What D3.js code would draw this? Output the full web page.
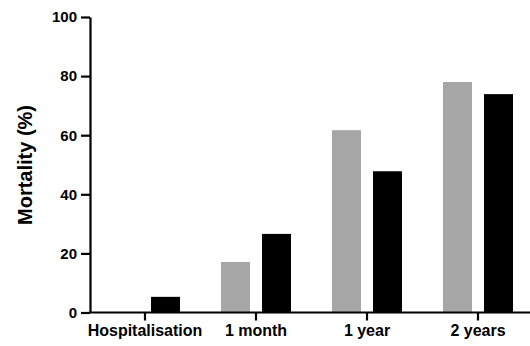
<!DOCTYPE html>
<html>
<head>
<meta charset="utf-8">
<script src="https://cdn.jsdelivr.net/npm/d3@7"></script>
<style>
  html, body { margin: 0; padding: 0; background: #fff; }
  svg { display: block; }
  text { font-family: Arial, "Liberation Sans", Helvetica, sans-serif; font-weight: bold; fill: #000; }
</style>
</head>
<body>
<svg id="chart" width="530" height="346"></svg>
<script>
const categories = ["Hospitalisation", "1 month", "1 year", "2 years"];
const seriesNames = ["Group A", "Group B"];
const seriesA = [0, 17.1, 61.7, 78.0];
const seriesB = [5.3, 26.6, 47.8, 73.9];
const yTicks = [0, 20, 40, 60, 80, 100];
const colors = ["#a6a6a6", "#000000"];

const svg = d3.select("#chart");
const y = d3.scaleLinear().domain([0, 100]).range([312.5, 17]);
const x0 = d3.scaleBand().domain(categories).range([89.5, 533.5]).paddingInner(0).paddingOuter(0);
const x1 = d3.scaleBand().domain(seriesNames).range([0, x0.bandwidth()]).paddingInner(12 / 41).paddingOuter(0.5);

const rows = categories.map((c, i) => ({ cat: c, vals: [seriesA[i], seriesB[i]] }));

const g = svg.selectAll("g.grp").data(rows).join("g")
  .attr("class", "grp")
  .attr("transform", d => `translate(${x0(d.cat)},0)`);

g.selectAll("rect").data(d => d.vals.map((v, j) => ({ v, s: seriesNames[j], c: colors[j] })))
  .join("rect")
  .attr("x", d => x1(d.s))
  .attr("width", x1.bandwidth())
  .attr("y", d => y(d.v))
  .attr("height", d => y(0) - y(d.v))
  .attr("fill", d => d.c);

// X axis
const xAxis = svg.append("g")
  .attr("transform", `translate(0,${y(0)})`)
  .call(d3.axisBottom(x0).tickSize(8).tickSizeOuter(0).tickPadding(4));
xAxis.select(".domain").attr("stroke-width", 2.2).attr("d", `M89,0H534`);
xAxis.selectAll(".tick line").attr("stroke-width", 2.2);
xAxis.selectAll(".tick text").style("font-size", "16px").style("font-family", "Arial, 'Liberation Sans', sans-serif").style("font-weight", "bold");

// Y axis
const yAxis = svg.append("g")
  .attr("transform", `translate(90,0)`)
  .call(d3.axisLeft(y).tickValues(yTicks).tickSize(9).tickSizeOuter(0).tickPadding(4));
yAxis.select(".domain").attr("stroke-width", 2.2);
yAxis.selectAll(".tick line").attr("stroke-width", 2.2);
yAxis.selectAll(".tick text").style("font-size", "15px").style("font-family", "Arial, 'Liberation Sans', sans-serif").style("font-weight", "bold");

// Y label
svg.append("text")
  .attr("transform", "translate(32,165) rotate(-90)")
  .attr("text-anchor", "middle")
  .style("font-size", "20px")
  .text("Mortality (%)");
</script>
</body>
</html>
